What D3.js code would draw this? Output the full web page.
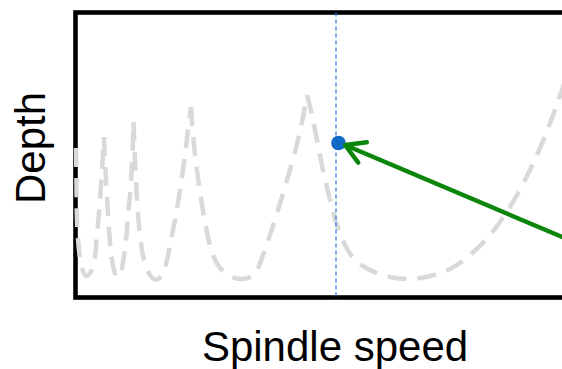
<!DOCTYPE html>
<html>
<head>
<meta charset="utf-8">
<script src="https://cdn.jsdelivr.net/npm/d3@7"></script>
<style>
  html, body { margin: 0; padding: 0; background: #fff; }
  svg { display: block; }
</style>
</head>
<body>
<svg id="chart" width="562" height="369"></svg>
<script>
// ---- Data: stability lobes (spindle speed in rpm, depth of cut in mm) ----
const lobe0Speed = [0, 10, 20, 60, 120, 200, 280, 360, 420, 480, 520, 560];
const lobe0Depth = [1.49, 1.12, 0.77, 0.47, 0.29, 0.21, 0.24, 0.35, 0.62, 0.97, 1.27, 1.60];

const lobe1Speed = [560, 580, 600, 630, 660, 700, 760, 820, 880, 940, 1000, 1040, 1080, 1120, 1140, 1150];
const lobe1Depth = [1.60, 1.37, 1.17, 0.92, 0.67, 0.45, 0.27, 0.20, 0.22, 0.35, 0.57, 0.82, 1.02, 1.32, 1.57, 1.75];

const lobe2Speed = [1150, 1180, 1220, 1280, 1360, 1480, 1600, 1720, 1820, 1900, 1980, 2080, 2180, 2240, 2300];
const lobe2Depth = [1.75, 1.37, 0.97, 0.62, 0.37, 0.22, 0.17, 0.22, 0.37, 0.57, 0.77, 1.07, 1.42, 1.67, 1.90];

const lobe3Speed = [2300, 2360, 2460, 2580, 2740, 2920, 3180, 3440, 3600, 3740, 3880, 4040, 4220, 4400, 4520, 4620];
const lobe3Depth = [1.90, 1.52, 1.12, 0.75, 0.42, 0.27, 0.19, 0.19, 0.25, 0.42, 0.62, 0.87, 1.17, 1.49, 1.75, 2.02];

const lobe4Speed = [4620, 4720, 4820, 4940, 5080, 5220, 5380, 5580, 5880, 6280, 6680, 7080, 7480, 7880, 8280, 8640, 8980, 9280, 9520, 9720, 9980];
const lobe4Depth = [2.02, 1.82, 1.57, 1.27, 0.97, 0.72, 0.52, 0.37, 0.27, 0.20, 0.18, 0.21, 0.28, 0.42, 0.62, 0.87, 1.17, 1.49, 1.79, 2.07, 2.47];

// selected operating point and the marker line
const selectedSpeed = 5200;
const pointSpeed = 5250;
const pointDepth = 1.54;
// annotation arrow (from -> to), in data units
const arrowFrom = [10480, 0.44];
const arrowTo = [5380, 1.52];

const xLabel = "Spindle speed";
const yLabel = "Depth";

// ---- Layout ----
const svg = d3.select("#chart");
const plot = { left: 75.5, top: 12.5, right: 640, bottom: 297.5 };

const x = d3.scaleLinear().domain([0, 10400]).range([76, 596]);
const y = d3.scaleLinear().domain([0, 2.85]).range([297, 12]);

// frame
svg.append("rect")
  .attr("x", plot.left).attr("y", plot.top)
  .attr("width", plot.right - plot.left).attr("height", plot.bottom - plot.top)
  .attr("fill", "none").attr("stroke", "#000").attr("stroke-width", 4.6);

// lobes
const lobes = [
  [lobe0Speed, lobe0Depth],
  [lobe1Speed, lobe1Depth],
  [lobe2Speed, lobe2Depth],
  [lobe3Speed, lobe3Depth],
  [lobe4Speed, lobe4Depth]
].map(([s, d]) => s.map((v, i) => [v, d[i]]));

const line = d3.line()
  .x(d => x(d[0]))
  .y(d => y(d[1]))
  .curve(d3.curveCatmullRom.alpha(0.5));

svg.append("g").selectAll("path")
  .data(lobes)
  .join("path")
  .attr("d", line)
  .attr("fill", "none")
  .attr("stroke", "#d9d9d9")
  .attr("stroke-width", 4.5)
  .attr("stroke-dasharray", "19,11");

// vertical dashed marker
svg.append("line")
  .attr("x1", x(selectedSpeed)).attr("x2", x(selectedSpeed))
  .attr("y1", plot.top).attr("y2", plot.bottom)
  .attr("stroke", "#2f6fdc").attr("stroke-width", 1.2)
  .attr("stroke-dasharray", "4,3");

// point
svg.append("circle")
  .attr("cx", x(pointSpeed)).attr("cy", y(pointDepth))
  .attr("r", 7.3).attr("fill", "#0f6ac6");

// arrow
const ax0 = x(arrowFrom[0]), ay0 = y(arrowFrom[1]);
const ax1 = x(arrowTo[0]), ay1 = y(arrowTo[1]);
const ang = Math.atan2(ay0 - ay1, ax0 - ax1);
const headLen = 22, headAng = Math.PI / 6;
const green = "#0b860b";
svg.append("line")
  .attr("x1", ax0).attr("y1", ay0).attr("x2", ax1).attr("y2", ay1)
  .attr("stroke", green).attr("stroke-width", 4.4);
svg.append("path")
  .attr("d", `M${ax1 + headLen * Math.cos(ang - headAng)},${ay1 + headLen * Math.sin(ang - headAng)}`
    + `L${ax1},${ay1}`
    + `L${ax1 + headLen * Math.cos(ang + headAng)},${ay1 + headLen * Math.sin(ang + headAng)}`)
  .attr("fill", "none").attr("stroke", green).attr("stroke-width", 4.4)
  .attr("stroke-linecap", "round").attr("stroke-linejoin", "round");

// labels
svg.append("text")
  .attr("x", 335).attr("y", 361)
  .attr("text-anchor", "middle")
  .attr("font-family", "Liberation Sans, Arial, sans-serif")
  .attr("font-size", 42)
  .attr("fill", "#000")
  .text(xLabel);

svg.append("text")
  .attr("transform", "translate(45,148) rotate(-90)")
  .attr("text-anchor", "middle")
  .attr("font-family", "Liberation Sans, Arial, sans-serif")
  .attr("font-size", 42)
  .attr("fill", "#000")
  .text(yLabel);
</script>
</body>
</html>
